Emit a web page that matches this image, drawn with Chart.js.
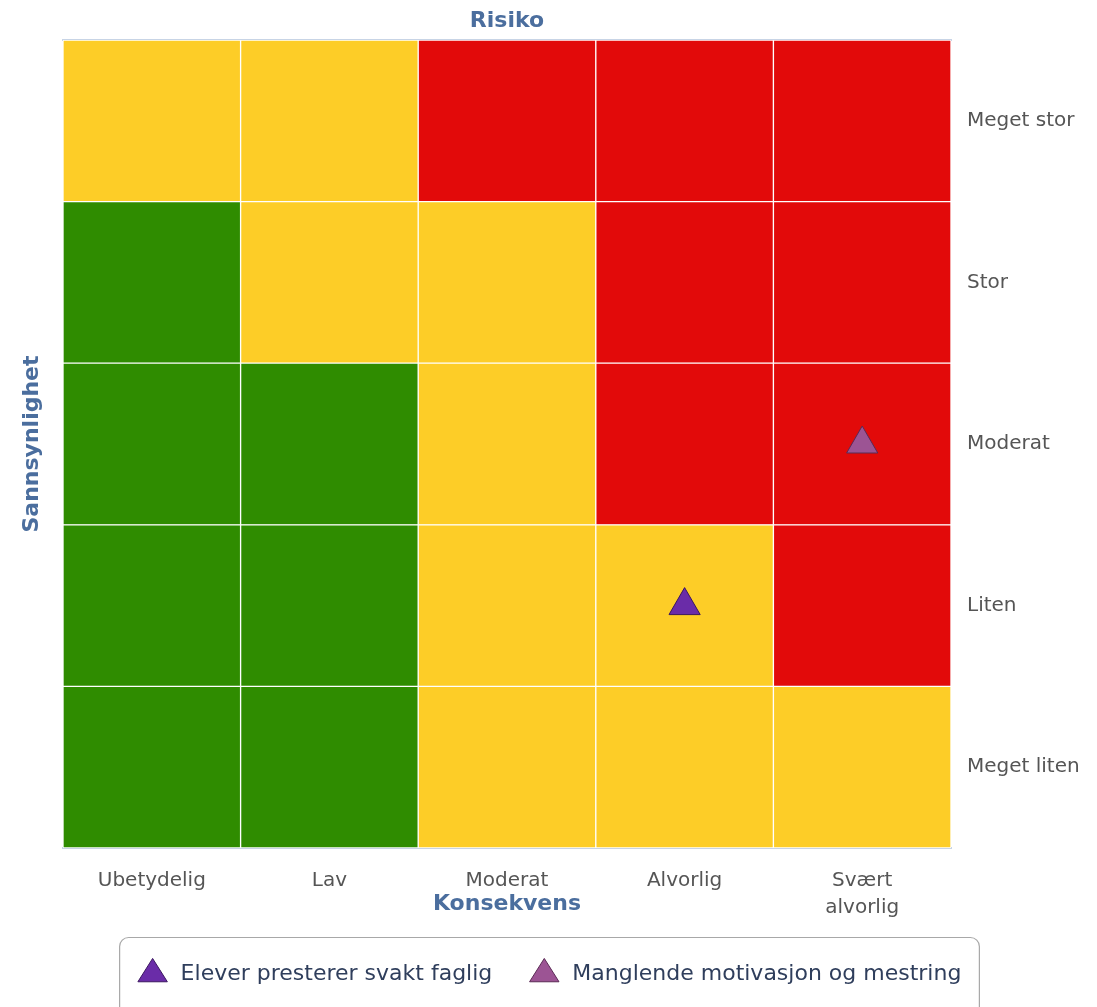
<!DOCTYPE html>
<html>
<head>
<meta charset="utf-8">
<script src="https://cdn.jsdelivr.net/npm/chart.js@4/dist/chart.umd.min.js"></script>
<style>
  html, body { margin: 0; padding: 0; background: #ffffff; overflow: hidden; }
  #c { display: block; }
</style>
</head>
<body>
<canvas id="c" width="1097" height="1007"></canvas>
<script>
// ---- Data ----
const consequences = ['Ubetydelig', 'Lav', 'Moderat', 'Alvorlig', 'Svært alvorlig'];
const likelihoods = ['Meget liten', 'Liten', 'Moderat', 'Stor', 'Meget stor']; // bottom -> top

// Risk level per cell (G = low, Y = medium, R = high), one array per likelihood row
const rowMegetLiten = ['G', 'G', 'Y', 'Y', 'Y'];
const rowLiten      = ['G', 'G', 'Y', 'Y', 'R'];
const rowModerat    = ['G', 'G', 'Y', 'R', 'R'];
const rowStor       = ['G', 'Y', 'Y', 'R', 'R'];
const rowMegetStor  = ['Y', 'Y', 'R', 'R', 'R'];
const riskRows = [rowMegetLiten, rowLiten, rowModerat, rowStor, rowMegetStor];

// Risks placed in the matrix
const riskNames = ['Elever presterer svakt faglig', 'Manglende motivasjon og mestring'];
const riskConsequence = ['Alvorlig', 'Svært alvorlig'];
const riskLikelihood = ['Liten', 'Moderat'];

// ---- Styles ----
const levelColors = { G: '#2F8C00', Y: '#FDCD27', R: '#E20A0A' };
const riskColors = ['#6A2CA8', '#9C5494'];
const riskBorders = ['#3B1760', '#5B2A55'];
const titleColor = '#4B6E9E';
const tickColor = '#555555';
const FONT = '"DejaVu Sans", sans-serif';

const cellDatasets = riskRows.map((row, i) => ({
  type: 'bar',
  label: likelihoods[i],
  data: row.map(() => 1),
  backgroundColor: row.map(l => levelColors[l]),
  borderColor: '#ffffff',
  borderWidth: 1,
  borderSkipped: false,
  barPercentage: 1,
  categoryPercentage: 1,
  xAxisID: 'x',
  yAxisID: 'y',
  order: 2
}));

const pointDatasets = riskNames.map((name, i) => ({
  type: 'scatter',
  label: name,
  data: [{ x: riskConsequence[i], y: likelihoods.indexOf(riskLikelihood[i]) + 0.5 }],
  pointStyle: 'triangle',
  pointRadius: 18,
  pointHoverRadius: 18,
  backgroundColor: riskColors[i],
  borderColor: riskBorders[i],
  borderWidth: 1,
  xAxisID: 'x',
  yAxisID: 'yp',
  stack: 'risk' + i,
  order: 1
}));

const legendBox = {
  id: 'legendBox',
  afterDraw(chart) {
    const lg = chart.legend;
    if (!lg || !lg.legendHitBoxes || !lg.legendHitBoxes.length) return;
    const hb = lg.legendHitBoxes;
    const left = hb[0].left - 16;
    const right = hb[hb.length - 1].left + hb[hb.length - 1].width + 18;
    const top = lg.top + 9.5;
    const bottom = chart.height + 20;
    const r = 9;
    const ctx = chart.ctx;
    ctx.save();
    ctx.strokeStyle = '#A8A8A8';
    ctx.lineWidth = 1.2;
    ctx.beginPath();
    ctx.moveTo(left + r, top);
    ctx.lineTo(right - r, top);
    ctx.arcTo(right, top, right, top + r, r);
    ctx.lineTo(right, bottom);
    ctx.lineTo(left, bottom);
    ctx.lineTo(left, top + r);
    ctx.arcTo(left, top, left + r, top, r);
    ctx.stroke();
    ctx.restore();
  }
};

new Chart(document.getElementById('c'), {
  type: 'bar',
  data: {
    labels: consequences,
    datasets: [...cellDatasets, ...pointDatasets]
  },
  plugins: [legendBox],
  options: {
    responsive: false,
    animation: false,
    layout: { padding: { left: 0, right: 0, top: 0, bottom: 12 } },
    plugins: {
      tooltip: { enabled: false },
      title: { display: false },
      legend: {
        display: true,
        position: 'bottom',
        labels: {
          filter: item => item.datasetIndex >= cellDatasets.length,
          usePointStyle: true,
          pointStyleWidth: 34,
          font: { family: FONT, size: 22 },
          color: '#2F3E5C',
          padding: 35
        }
      }
    },
    scales: {
      x: {
        type: 'category',
        position: 'bottom',
        stacked: true,
        offset: true,
        grid: { display: false, drawTicks: false },
        border: { display: true, color: '#C7D4E6', width: 2 },
        ticks: {
          color: tickColor,
          font: { family: FONT, size: 20, lineHeight: 1.35 },
          padding: 19,
          maxRotation: 0,
          minRotation: 0,
          autoSkip: false,
          callback: (value, index) => {
            const l = consequences[index];
            return l.indexOf(' ') >= 0 ? l.split(' ') : l;
          }
        },
        title: {
          display: true,
          text: 'Konsekvens',
          color: titleColor,
          font: { family: FONT, size: 22, weight: 'bold' },
          padding: { top: 0, bottom: 11 }
        },
        afterFit(scale) { scale.height = 80; }
      },
      xTop: {
        type: 'linear',
        position: 'top',
        axis: 'x',
        offset: false,
        grid: { display: false, drawTicks: false, offset: false },
        border: { display: true, color: '#C7D4E6', width: 2 },
        ticks: { display: false },
        title: {
          display: true,
          text: 'Risiko',
          color: titleColor,
          font: { family: FONT, size: 22, weight: 'bold' },
          padding: { top: 8, bottom: 0 }
        },
        afterFit(scale) { scale.height = 40; }
      },
      y: {
        type: 'linear',
        position: 'right',
        stacked: true,
        min: 0,
        max: likelihoods.length,
        grid: { display: false, drawTicks: false },
        border: { display: false },
        afterBuildTicks(scale) {
          scale.ticks = likelihoods.map((l, i) => ({ value: i + 0.5 }));
        },
        ticks: {
          color: tickColor,
          font: { family: FONT, size: 20 },
          padding: 16,
          callback: (value) => likelihoods[Math.floor(value)]
        },
        afterFit(scale) { scale.width = 146; }
      },
      yp: {
        type: 'linear',
        display: false,
        stacked: false,
        min: 0,
        max: likelihoods.length
      },
      yLeft: {
        type: 'linear',
        position: 'left',
        axis: 'y',
        grid: { display: false, drawTicks: false },
        border: { display: false },
        ticks: { display: false },
        title: {
          display: true,
          text: 'Sannsynlighet',
          color: titleColor,
          font: { family: FONT, size: 22, weight: 'bold' },
          padding: { top: 19, bottom: 0 }
        },
        afterFit(scale) { scale.width = 63; }
      }
    }
  }
});
</script>
</body>
</html>
